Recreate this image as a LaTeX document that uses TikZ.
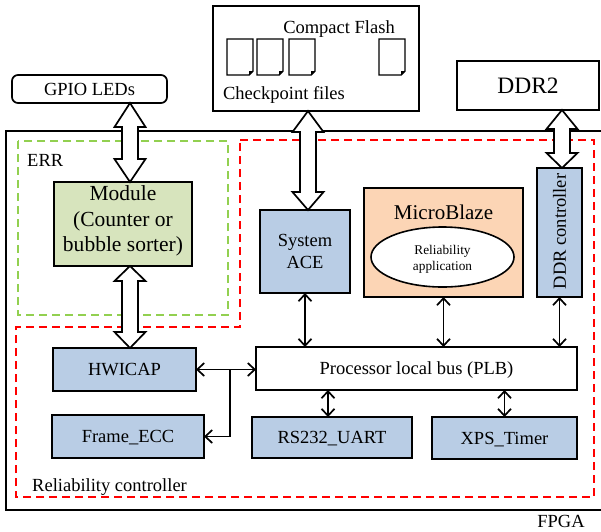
\documentclass[tikz,border=0pt]{standalone}
\usepackage{fontspec}
\setmainfont{Liberation Serif}
\usetikzlibrary{arrows.meta,shapes.geometric,calc}
\definecolor{boxblue}{RGB}{185,205,229}
\definecolor{boxgreen}{RGB}{215,228,189}
\definecolor{boxpeach}{RGB}{252,213,181}
\definecolor{errgreen}{RGB}{146,208,80}
\newcommand\fatdbl[5]{%
  \draw[fat] let \p1=(#1.south), \p2=(#2.north) in
    (#3pt,\y1) -- (#3pt+15.5pt,\y1-#4pt) -- (#3pt+8pt,\y1-#4pt)
    -- (#3pt+8pt,\y2+#5pt) -- (#3pt+15.5pt,\y2+#5pt) -- (#3pt,\y2)
    -- (#3pt-15.5pt,\y2+#5pt) -- (#3pt-8pt,\y2+#5pt)
    -- (#3pt-8pt,\y1-#4pt) -- (#3pt-15.5pt,\y1-#4pt) -- cycle;}
\begin{document}
\begin{tikzpicture}[x=1pt,y=-1pt,
  font=\fontsize{18.5}{22}\selectfont,
  blk/.style={draw=black,line width=1.7pt,inner sep=0pt,outer sep=0pt},
  bluebox/.style={blk,fill=boxblue,text depth=0pt},
  fat/.style={draw=black,line width=1.7pt,fill=white,line join=miter},
  dblarrow/.style={line width=1.7pt,{Straight Barb[length=7pt,width=13pt]}-{Straight Barb[length=7pt,width=13pt]}},
  onearrow/.style={line width=1.7pt,-{Straight Barb[length=7pt,width=13pt]}},
  dashbox/.style={line width=1.7pt,dash pattern=on 8pt off 5pt}]
\useasboundingbox (0,0) rectangle (601,531);

% FPGA outline and regions
\draw[line width=1.8pt] (6,131) rectangle (605,510);
\node[anchor=base] (fpgalbl) at (561,527) {FPGA};
\draw[errgreen,dashbox] (18,141) rectangle (228,315);
\node[anchor=base west,inner sep=0pt] (errlbl) at (27,166) {ERR};
\draw[red,dashbox] (240,140) -- (594,140) -- (594,497) -- (16,497) -- (16,327) -- (240,327) -- cycle;
\node[anchor=base west,inner sep=0pt] (rclbl) at (32,491) {Reliability controller};

% external blocks
\node[blk,rounded corners=6pt,text depth=0pt,minimum width=155pt,minimum height=28pt] (gpio) at (89.5,89) {GPIO LEDs};
\node[blk,minimum width=206pt,minimum height=105pt] (cf) at (316,58.5) {};
\node[anchor=base] (cftitle) at (339,33) {Compact Flash};
\node[anchor=base] (cffiles) at (284,99) {Checkpoint files};
\foreach \fx in {227,257,289,379}{
  \draw[line width=1.4pt,line join=miter] (\fx,39) -- (\fx+26,39) -- (\fx+26,71) -- (\fx+22,75) -- (\fx,75) -- cycle;
  \fill (\fx+26,71) -- (\fx+22,75) -- (\fx+22,71) -- cycle;
}
\node[blk,text depth=0pt,minimum width=142pt,minimum height=49pt,font=\fontsize{23.5}{28}\selectfont] (ddr2) at (528,85.5) {DDR2};

% inner blocks
\node[blk,fill=boxgreen,minimum width=138pt,minimum height=84pt] (module) at (123,224) {};
\node[align=center,font=\fontsize{21.5}{25.5}\selectfont] (modtxt) at (123,221) {Module\\(Counter or\\bubble sorter)};
\node[blk,fill=boxblue,align=center,minimum width=90pt,minimum height=83pt,font=\fontsize{18.5}{21.6}\selectfont] (sysace) at (305,251.5) {System\\ACE};
\node[blk,fill=boxpeach,minimum width=159pt,minimum height=109pt] (mb) at (443.5,242.5) {};
\node[anchor=base,font=\fontsize{21}{25}\selectfont] (mbtitle) at (443.5,219) {MicroBlaze};
\node[draw,ellipse,line width=1.6pt,fill=white,minimum width=143pt,minimum height=60pt,inner sep=0pt] (app) at (442.5,257) {};
\node[align=center,font=\fontsize{13.3}{16}\selectfont] (apptxt) at (442.5,259) {Reliability\\application};
\node[blk,fill=boxblue,minimum width=45pt,minimum height=129pt] (ddrc) at (559.5,232.5) {};
\node[rotate=90] (ddrctxt) at (559.5,231.5) {DDR controller};
\node[bluebox,minimum width=143pt,minimum height=43pt] (hwicap) at (124.5,369.5) {HWICAP};
\node[bluebox,minimum width=152pt,minimum height=43pt] (frame) at (128,436.5) {Frame\_ECC};
\node[blk,fill=white,text depth=0pt,minimum width=321pt,minimum height=43pt] (plb) at (416.5,368.5) {Processor local bus (PLB)};
\node[bluebox,minimum width=160pt,minimum height=41pt] (rs232) at (332,437.5) {RS232\_UART};
\node[bluebox,minimum width=145pt,minimum height=42pt] (xps) at (504.5,438) {XPS\_Timer};

% wide double arrows
\fatdbl{gpio}{module}{130}{24}{23}
\fatdbl{module}{hwicap}{130}{15}{16}
\fatdbl{cf}{sysace}{308}{21}{18}
\fatdbl{ddr2}{ddrc}{562}{19}{15}

% bus connections
\draw[dblarrow] (sysace.south) -- (sysace.south |- plb.north);
\draw[dblarrow] (mb.south) -- (mb.south |- plb.north);
\draw[dblarrow] (ddrc.south) -- (ddrc.south |- plb.north);
\draw[dblarrow] (hwicap.east) -- (hwicap.east -| plb.west);
\coordinate (junc) at (230,369.5);
\draw[onearrow] (junc) |- (frame.east);
\draw[dblarrow] ([xshift=-4pt]rs232.north) -- ([xshift=-4pt]rs232.north |- plb.south);
\draw[dblarrow] (xps.north) -- (xps.north |- plb.south);
\end{tikzpicture}
\end{document}
